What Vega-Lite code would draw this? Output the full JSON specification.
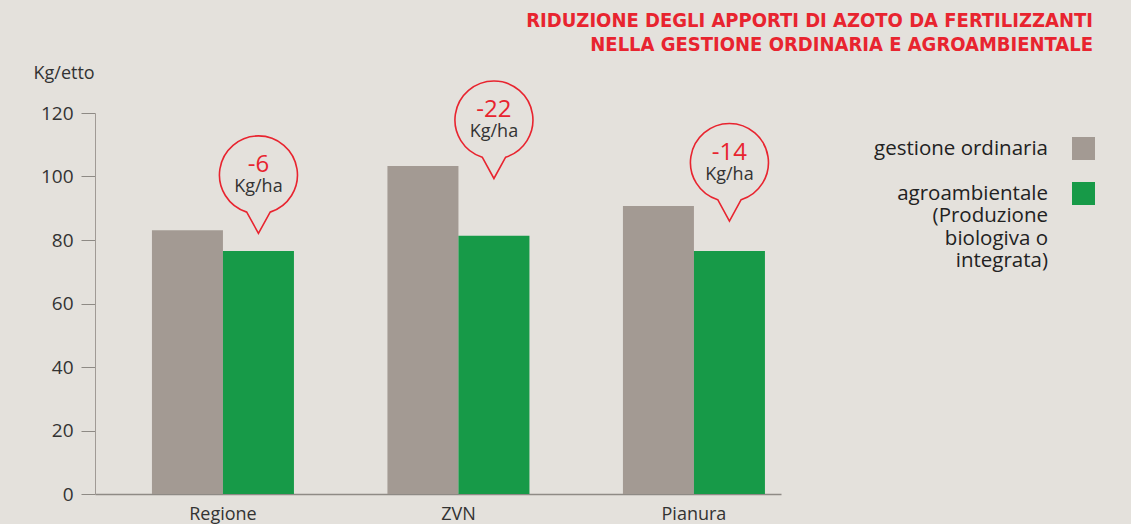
{
  "$schema": "https://vega.github.io/schema/vega-lite/v6.json",
  "autosize": {"type": "none"},
  "padding": {"left": 95, "top": 113, "right": 350, "bottom": 30},
  "width": 686,
  "height": 381,
  "background": "#e4e1dc",
  "config": {
    "view": {"stroke": null},
    "font": "Open Sans"
  },
  "title": {
    "text": ["RIDUZIONE DEGLI APPORTI DI AZOTO DA FERTILIZZANTI", "NELLA GESTIONE ORDINARIA E AGROAMBIENTALE"],
    "anchor": "end",
    "frame": "group",
    "dx": 312,
    "font": "DejaVu Sans Condensed",
    "fontSize": 20,
    "fontWeight": "bold",
    "color": "#e8242f",
    "lineHeight": 24,
    "offset": 9
  },
  "datasets": {
    "bars": [
      {"area": "Regione", "serie": "gestione ordinaria", "valore": 83.1},
      {"area": "Regione", "serie": "agroambientale", "valore": 76.5},
      {"area": "ZVN", "serie": "gestione ordinaria", "valore": 103.3},
      {"area": "ZVN", "serie": "agroambientale", "valore": 81.3},
      {"area": "Pianura", "serie": "gestione ordinaria", "valore": 90.7},
      {"area": "Pianura", "serie": "agroambientale", "valore": 76.5}
    ],
    "note": [
      {"area": "Regione", "serie": "agroambientale", "centro": 100.5, "diff": "-6", "unita": "Kg/ha"},
      {"area": "ZVN", "serie": "agroambientale", "centro": 117.8, "diff": "-22", "unita": "Kg/ha"},
      {"area": "Pianura", "serie": "agroambientale", "centro": 104.4, "diff": "-14", "unita": "Kg/ha"}
    ]
  },
  "encoding": {
    "x": {
      "field": "area",
      "type": "nominal",
      "sort": ["Regione", "ZVN", "Pianura"],
      "scale": {"paddingInner": 0.397, "paddingOuter": 0.155, "align": 0.78},
      "axis": {
        "title": null,
        "labelAngle": 0,
        "ticks": false,
        "labelFontSize": 18,
        "labelColor": "#333333",
        "labelPadding": 11,
        "domainColor": "#8e8a85",
        "domainWidth": 1.5
      }
    },
    "xOffset": {
      "field": "serie",
      "type": "nominal",
      "sort": ["gestione ordinaria", "agroambientale"],
      "scale": {"paddingInner": 0, "paddingOuter": 0}
    },
    "y": {
      "type": "quantitative",
      "scale": {"domain": [0, 120], "nice": false},
      "axis": {
        "title": "Kg/etto",
        "titleAngle": 0,
        "titleAlign": "left",
        "titleBaseline": "middle",
        "titleX": -62,
        "titleY": -40,
        "titleFontSize": 18,
        "titleFontWeight": "normal",
        "titleColor": "#333333",
        "values": [0, 20, 40, 60, 80, 100, 120],
        "grid": false,
        "tickSize": 14,
        "tickColor": "#8e8a85",
        "domainColor": "#a09a95",
        "labelFontSize": 19,
        "labelColor": "#333333",
        "labelPadding": 8
      }
    }
  },
  "layer": [
    {
      "data": {"name": "bars"},
      "mark": {"type": "bar"},
      "encoding": {
        "y": {"field": "valore", "type": "quantitative"},
        "color": {
          "field": "serie",
          "type": "nominal",
          "scale": {"domain": ["gestione ordinaria", "agroambientale"], "range": ["#a39a93", "#179a48"]},
          "legend": {
            "title": null,
            "orient": "none",
            "legendX": 977,
            "legendY": 24,
            "symbolType": "square",
            "symbolSize": 529,
            "symbolStrokeWidth": 0,
            "labelAlign": "right",
            "labelOffset": -47,
            "labelFontSize": 20.5,
            "labelColor": "#222222",
            "labelLimit": 400,
            "labelLineHeight": 21,
            "rowPadding": 22,
            "labelExpr": "datum.label == 'agroambientale' ? ['agroambientale', '(Produzione', 'biologiva o', 'integrata)'] : datum.label"
          }
        }
      }
    },
    {
      "data": {"name": "note"},
      "mark": {
        "type": "point",
        "shape": "M -0.3 0.954 A 1 1 0 1 1 0.3 0.954 L 0 1.5 Z",
        "size": 6084,
        "filled": false,
        "stroke": "#e8242f",
        "strokeWidth": 1.6,
        "opacity": 1
      },
      "encoding": {
        "y": {"field": "centro", "type": "quantitative"}
      }
    },
    {
      "data": {"name": "note"},
      "mark": {"type": "text", "color": "#e8242f", "fontSize": 24, "baseline": "alphabetic", "dy": -3},
      "encoding": {
        "y": {"field": "centro", "type": "quantitative"},
        "text": {"field": "diff"}
      }
    },
    {
      "data": {"name": "note"},
      "mark": {"type": "text", "color": "#333333", "fontSize": 18, "baseline": "alphabetic", "dy": 17},
      "encoding": {
        "y": {"field": "centro", "type": "quantitative"},
        "text": {"field": "unita"}
      }
    }
  ]
}
